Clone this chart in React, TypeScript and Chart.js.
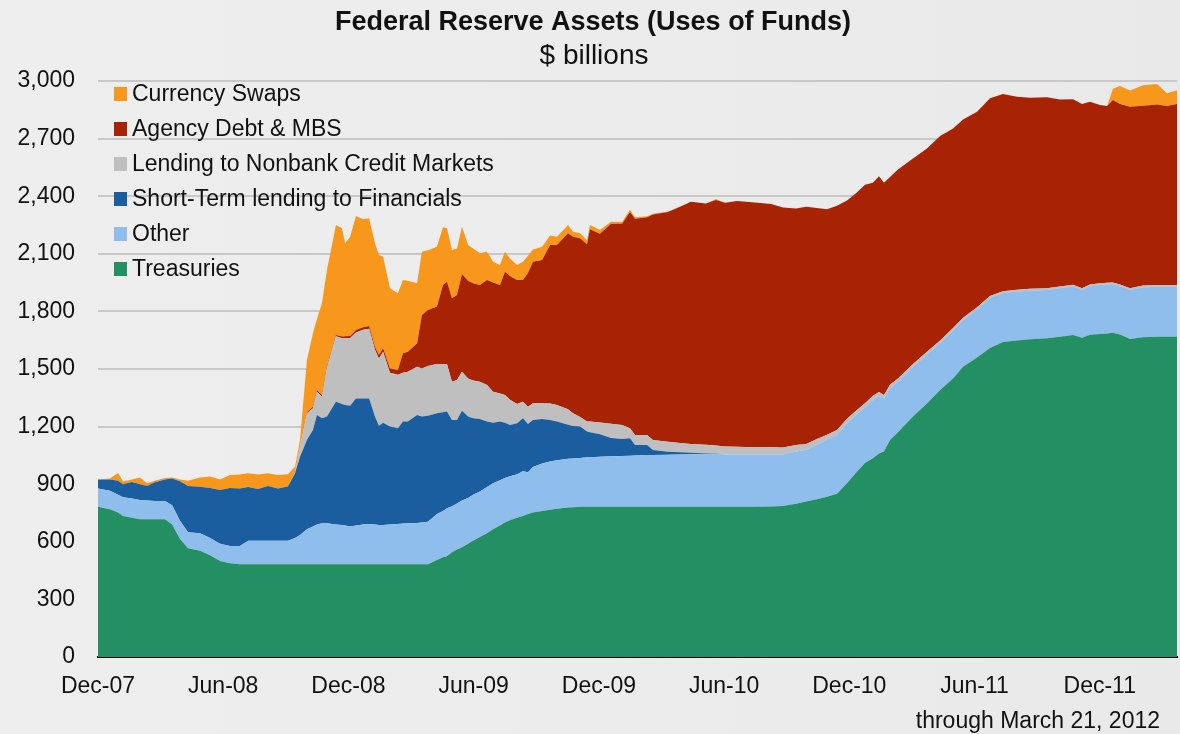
import React, { useEffect, useRef } from 'react';
import { Chart, registerables } from 'chart.js';

Chart.register(...registerables);

// months since start of Dec 2007
const months = [
  0, 0.57, 0.96, 1.2, 1.63, 2.01, 2.35, 2.73, 3.21, 3.55, 3.93, 4.31, 4.89, 5.37, 5.85, 6.32, 6.8, 7.19, 7.67, 8.14, 8.62, 9.1,
  9.44, 9.68, 10.01, 10.3, 10.49, 10.73, 10.97, 11.4, 11.69, 11.84, 12.08, 12.36, 12.7, 12.99, 13.27, 13.46, 13.66, 13.99, 14.37, 14.61, 14.85, 15.29, 15.52, 15.81,
  16.24, 16.53, 16.72, 16.96, 17.2, 17.44, 17.73, 17.97, 18.3, 18.64, 18.93, 19.26, 19.5, 19.74, 20.08, 20.36, 20.6, 20.84, 21.28, 21.66, 21.99, 22.52, 22.76, 23.1, 23.43, 23.57, 24.05,
  24.58, 25.11, 25.49, 25.73, 26.31, 26.59, 27.31, 27.89, 28.41, 29.13, 29.61, 30.04, 30.62, 31.34,
  32.25, 32.82, 33.45, 33.93, 34.45, 34.93, 35.41, 35.89, 36.32, 36.75, 37.13, 37.42, 37.66, 37.95, 38.33, 39.05, 39.72, 40.35, 40.97, 41.45,
  42.12, 42.74, 43.36, 44.03, 44.66, 45.47, 46.09, 46.72, 47.15, 47.53, 48.01, 48.35, 48.63, 48.97, 49.45, 50.07, 50.74, 51.22, 51.7,
];

const treasuries = [
  783, 770, 752, 734, 725, 718, 718, 717, 717, 690, 615, 566, 554, 530, 500, 488, 483, 483, 483, 483, 483, 483,
  483, 483, 483, 483, 483, 483, 483, 483, 483, 483, 483, 483, 483, 483, 483, 483, 483, 483, 483, 483, 483, 483, 483, 483,
  505, 520, 525, 545, 560, 572, 590, 605, 625, 644, 665, 685, 700, 712, 725, 735, 745, 752, 760, 767, 772, 778, 780, 783, 783, 783, 783,
  783, 783, 783, 783, 783, 783, 783, 783, 783, 783, 783, 783, 783, 783,
  784, 786, 798, 810, 822, 835, 850, 905, 960, 1010, 1035, 1060, 1070, 1130, 1170, 1252, 1320, 1390, 1450, 1512,
  1560, 1610, 1640, 1648, 1655, 1660, 1668, 1677, 1663, 1679, 1682, 1685, 1689, 1680, 1656, 1665, 1668, 1668, 1668,
];

const other = [
  95, 96, 93, 98, 100, 100, 97, 95, 95, 100, 95, 84, 90, 90, 90, 90, 95, 123, 123, 123, 123, 123,
  137, 152, 182, 197, 207, 213, 213, 207, 205, 202, 197, 202, 207, 210, 207, 205, 205, 207, 210, 212, 213, 215, 217, 222,
  240, 240, 250, 240, 240, 243, 238, 240, 237, 241, 240, 235, 232, 230, 227, 233, 217, 238, 248, 251, 253, 254, 254, 254, 257, 258, 260,
  262, 264, 265, 266, 269, 269, 271, 272, 273, 274, 274, 272, 272, 272,
  271, 269, 272, 268, 283, 295, 306, 312, 300, 290, 305, 300, 275, 270, 264, 258, 255, 244, 250, 243,
  250, 260, 255, 255, 253, 251, 252, 252, 248, 251, 255, 254, 252, 250, 255, 260, 260, 260, 260,
];

const shortTerm = [
  47, 59, 73, 68, 87, 82, 75, 98, 113, 140, 205, 240, 243, 260, 280, 302, 299, 279, 269, 284, 272, 282,
  337, 408, 465, 502, 570, 547, 556, 640, 630, 628, 629, 662, 657, 654, 562, 517, 532, 510, 498, 531, 530, 562, 552, 551,
  524, 515, 503, 449, 434, 467, 424, 398, 377, 341, 315, 306, 288, 266, 265, 275, 251, 244, 231, 217, 201, 178, 169, 163, 135, 129, 117,
  95, 88, 91, 55, 52, 26, 15, 11, 8, 3, 1, 0, 0, 0,
  0, 0, 0, 0, 0, 0, 0, 0, 0, 0, 0, 0, 0, 0, 0, 0, 0, 0, 0, 0,
  0, 0, 0, 0, 0, 0, 0, 0, 0, 0, 0, 0, 0, 0, 0, 0, 0, 0, 0,
];

const nonbank = [
  0, 0, 0, 0, 0, 0, 0, 0, 0, 0, 0, 0, 0, 0, 0, 0, 0, 0, 0, 0, 0, 0,
  5, 52, 139, 113, 122, 113, 253, 340, 342, 347, 353, 343, 358, 363, 348, 350, 370, 280, 279, 254, 260, 252, 251, 259,
  257, 251, 248, 200, 209, 204, 198, 197, 195, 191, 162, 147, 145, 132, 101, 87, 91, 87, 82, 85, 86, 80, 66, 50, 51, 56, 62,
  75, 73, 52, 52, 52, 52, 52, 49, 46, 45, 44, 42, 40, 38,
  37, 36, 34, 32, 30, 28, 26, 24, 23, 22, 21, 20, 19, 18, 17, 16, 15, 14, 13, 12,
  11, 10, 10, 10, 10, 10, 10, 10, 10, 10, 10, 10, 10, 10, 10, 10, 10, 10, 10,
];

const agency = [
  0, 0, 0, 0, 0, 0, 0, 0, 0, 0, 0, 0, 0, 0, 0, 0, 0, 0, 0, 0, 0, 0,
  0, 0, 6, 8, 9, 9, 7, 7, 9, 10, 10, 13, 13, 14, 16, 18, 18, 23, 25, 102, 104, 122, 278, 292,
  299, 411, 429, 434, 442, 509, 510, 506, 503, 546, 568, 564, 642, 645, 645, 633, 696, 738, 747, 826, 834, 917, 920, 931, 924, 1002, 983,
  1042, 1049, 1127, 1127, 1134, 1175, 1197, 1230, 1261, 1257, 1278, 1269, 1280, 1275,
  1267, 1250, 1232, 1235, 1204, 1174, 1168, 1137, 1132, 1138, 1109, 1124, 1106, 1082, 1088, 1071, 1059, 1065, 1040, 1033,
  1019, 1030, 1027, 1005, 995, 994, 974, 966, 959, 952, 928, 921, 950, 940, 945, 936, 940, 932, 942,
];

const swaps = [
  0, 5, 40, 15, 13, 35, 15, 8, 7, 5, 10, 28, 48, 60, 55, 68, 73, 72, 75, 67, 70, 64,
  29, 35, 272, 383, 369, 477, 503, 573, 564, 485, 517, 594, 562, 561, 539, 521, 477, 417, 399, 381, 370, 312, 330, 311,
  312, 301, 278, 252, 243, 246, 186, 182, 166, 148, 109, 105, 104, 91, 79, 96, 90, 64, 69, 49, 43, 43, 26, 26, 20, 22, 20,
  10, 8, 12, 7, 5, 3, 2, 1, 0, 0, 5, 0, 0, 0,
  0, 0, 0, 0, 0, 0, 0, 0, 0, 0, 0, 0, 0, 0, 0, 0, 0, 0, 0, 0,
  0, 0, 0, 0, 0, 0, 0, 0, 0, 0, 0, 0, 59, 94, 84, 107, 106, 66, 72,
];

const seriesNames = [
  'Treasuries',
  'Other',
  'Short-Term lending to Financials',
  'Lending to Nonbank Credit Markets',
  'Agency Debt & MBS',
  'Currency Swaps',
];
const seriesColors = ['#248f63', '#8fbdec', '#1a5ea0', '#bfbfbf', '#a82304', '#f7981d'];

const yTicks = [0, 300, 600, 900, 1200, 1500, 1800, 2100, 2400, 2700, 3000];
const xTickMonths = [0, 6, 12, 18, 24, 30, 36, 42, 48];
const xTickLabels = ['Dec-07', 'Jun-08', 'Dec-08', 'Jun-09', 'Dec-09', 'Jun-10', 'Dec-10', 'Jun-11', 'Dec-11'];

const titleText = 'Federal Reserve Assets (Uses of Funds)';
const subtitleText = '$ billions';
const noteText = 'through March 21, 2012';

const FONT = '"Liberation Sans", Arial, sans-serif';

export default function App() {
  const ref = useRef<HTMLCanvasElement>(null);

  useEffect(() => {
    if (!ref.current) return;
    const series = [treasuries, other, shortTerm, nonbank, agency, swaps];
    const datasets = series.map((vals, i) => ({
      label: seriesNames[i],
      data: vals.map((v, j) => ({ x: months[j], y: v })),
      backgroundColor: seriesColors[i],
      borderColor: seriesColors[i],
      borderWidth: 0,
      pointRadius: 0,
      pointHoverRadius: 0,
      fill: i === 0 ? 'origin' : '-1',
      tension: 0,
    }));

    const textPlugin = {
      id: 'texts',
      afterDraw(chart: any) {
        const ctx = chart.ctx as CanvasRenderingContext2D;
        ctx.save();
        ctx.fillStyle = '#111';
        ctx.textAlign = 'center';
        ctx.textBaseline = 'alphabetic';
        ctx.font = `bold 27px ${FONT}`;
        ctx.fillText(titleText, 593, 30);
        ctx.font = `28px ${FONT}`;
        ctx.fillText(subtitleText, 594, 64);
        ctx.textAlign = 'left';
        ctx.font = `23px ${FONT}`;
        for (let k = 0; k < seriesNames.length; k++) {
          const i = seriesNames.length - 1 - k;
          const base = 101 + k * 35;
          ctx.fillStyle = seriesColors[i];
          ctx.fillRect(114, base - 14, 13, 14);
          ctx.fillStyle = '#111';
          ctx.fillText(seriesNames[i], 132, base);
        }
        ctx.textAlign = 'right';
        ctx.font = `23px ${FONT}`;
        ctx.fillText(noteText, 1160, 728);
        ctx.restore();
      },
    };

    const chart = new Chart(ref.current, {
      type: 'line',
      data: { datasets: datasets as any },
      options: {
        animation: false,
        responsive: false,
        devicePixelRatio: 1,
        events: [],
        layout: { padding: { top: 81, right: 3, bottom: 32, left: 0 } },
        plugins: {
          legend: { display: false },
          title: { display: false },
          tooltip: { enabled: false },
        },
        scales: {
          x: {
            type: 'linear',
            min: 0,
            max: 51.7,
            z: 1,
            afterBuildTicks: (s: any) => {
              s.ticks = xTickMonths.map((v) => ({ value: v }));
            },
            afterFit: (s: any) => {
              s.height = 45;
            },
            ticks: {
              autoSkip: false,
              maxRotation: 0,
              padding: 16,
              color: '#111',
              font: { family: FONT, size: 23 },
              callback: (v: any) => {
                const idx = xTickMonths.indexOf(Number(v));
                return idx >= 0 ? xTickLabels[idx] : '';
              },
            },
            grid: { display: false, drawTicks: false },
            border: { display: true, color: '#000', width: 2 },
          },
          y: {
            type: 'linear',
            stacked: true,
            min: 0,
            max: 3000,
            afterBuildTicks: (s: any) => {
              s.ticks = yTicks.map((v) => ({ value: v }));
            },
            afterFit: (s: any) => {
              s.width = 98;
            },
            ticks: {
              padding: 23,
              color: '#111',
              font: { family: FONT, size: 23 },
              callback: (v: any) => String(v).replace(/\B(?=(\d{3})+(?!\d))/g, ','),
            },
            grid: {
              drawTicks: false,
              lineWidth: 2,
              color: (c: any) => (c.tick && c.tick.value === 0 ? 'rgba(0,0,0,0)' : '#c8c8c8'),
            },
            border: { display: false },
          },
        },
      },
      plugins: [textPlugin],
    });

    return () => chart.destroy();
  }, []);

  return (
    <div
      style={{
        position: 'fixed',
        left: 0,
        top: 0,
        width: 1180,
        height: 734,
        background: 'linear-gradient(90deg, #eeeeee 0%, #ececec 50%, #e9e9e9 100%)',
        overflow: 'hidden',
      }}
    >
      <canvas ref={ref} width={1180} height={734} style={{ display: 'block' }} />
    </div>
  );
}
